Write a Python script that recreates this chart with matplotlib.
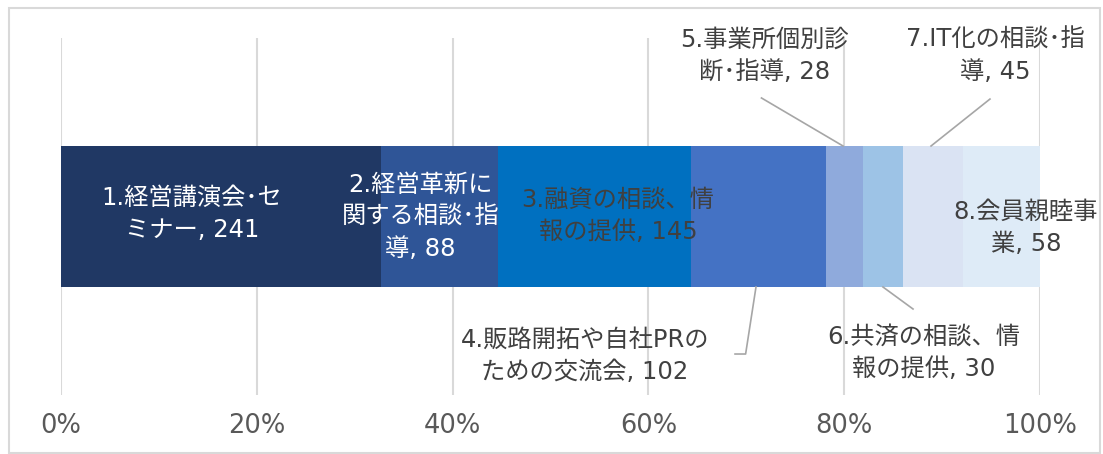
import matplotlib
matplotlib.use("Agg")
import matplotlib.pyplot as plt
from matplotlib.patches import Rectangle

plt.rcParams['font.family'] = ['DejaVu Sans', 'Noto Sans CJK JP']

# data
names = ["1.経営講演会･セ\nミナー", "2.経営革新に\n関する相談･指\n導", "3.融資の相談、情\n報の提供",
         "4.販路開拓や自社PRの\nための交流会", "5.事業所個別診\n断･指導", "6.共済の相談、情\n報の提供",
         "7.IT化の相談･指\n導", "8.会員親睦事\n業"]
values = [241, 88, 145, 102, 28, 30, 45, 58]
colors = ["#203864", "#2F5597", "#0070C0", "#4472C4", "#8FAADC", "#9DC3E6", "#DAE3F3", "#DEEBF7"]
text_colors = ["white", "white", "#404040", "#404040", "#404040", "#404040", "#404040", "#404040"]
tick_vals = [0, 0.2, 0.4, 0.6, 0.8, 1.0]
tick_labels = ["0%", "20%", "40%", "60%", "80%", "100%"]

# label placement (axes units), and leader lines
label_pos = [(0.134, 0.507), (0.367, 0.499), (0.569, 0.501), (0.535, 0.109),
             (0.719, 0.950), (0.8815, 0.118), (0.954, 0.950), (0.9857, 0.468)]
leaders = [([0.7099, 0.6993, 0.6885], [0.3025, 0.1148, 0.1148]),
           ([0.7155, 0.7988], [0.832, 0.6975]),
           ([0.8396, 0.8703], [0.3025, 0.2409]),
           ([0.9489, 0.8887], [0.829, 0.6975])]

W, H = 1103, 454
fig = plt.figure(figsize=(W / 100, H / 100), dpi=100)
ax = fig.add_axes([61 / W, 59 / H, 979 / W, 357 / H])

total = sum(values)
left = 0
for v, c in zip(values, colors):
    w = v / total
    ax.barh(0.5, w, left=left, height=0.395, color=c, zorder=2)
    left += w

for (x, y), n, v, tc in zip(label_pos, names, values, text_colors):
    ax.text(x, y, "%s, %d" % (n, v), ha='center', va='center', multialignment='center',
            color=tc, fontsize=17.5, linespacing=1.42, zorder=4)

for xs, ys in leaders:
    ax.plot(xs, ys, color="#A6A6A6", lw=1.2, zorder=3, clip_on=False)

ax.set_xlim(0, 1)
ax.set_ylim(0, 1)
ax.set_xticks(tick_vals)
ax.set_xticklabels(tick_labels)
ax.set_yticks([])
ax.tick_params(axis='x', length=0, pad=13, labelsize=18.5, labelcolor="#595959")
ax.grid(axis='x', color="#D9D9D9", lw=1.5, zorder=0)
for s in ax.spines.values():
    s.set_visible(False)

# outer frame
fig.patches.append(Rectangle((9 / W, 1 / H), 1091 / W, 445 / H, transform=fig.transFigure,
                             fill=False, edgecolor="#D9D9D9", lw=1.5))

fig.savefig("out.png", dpi=100)
